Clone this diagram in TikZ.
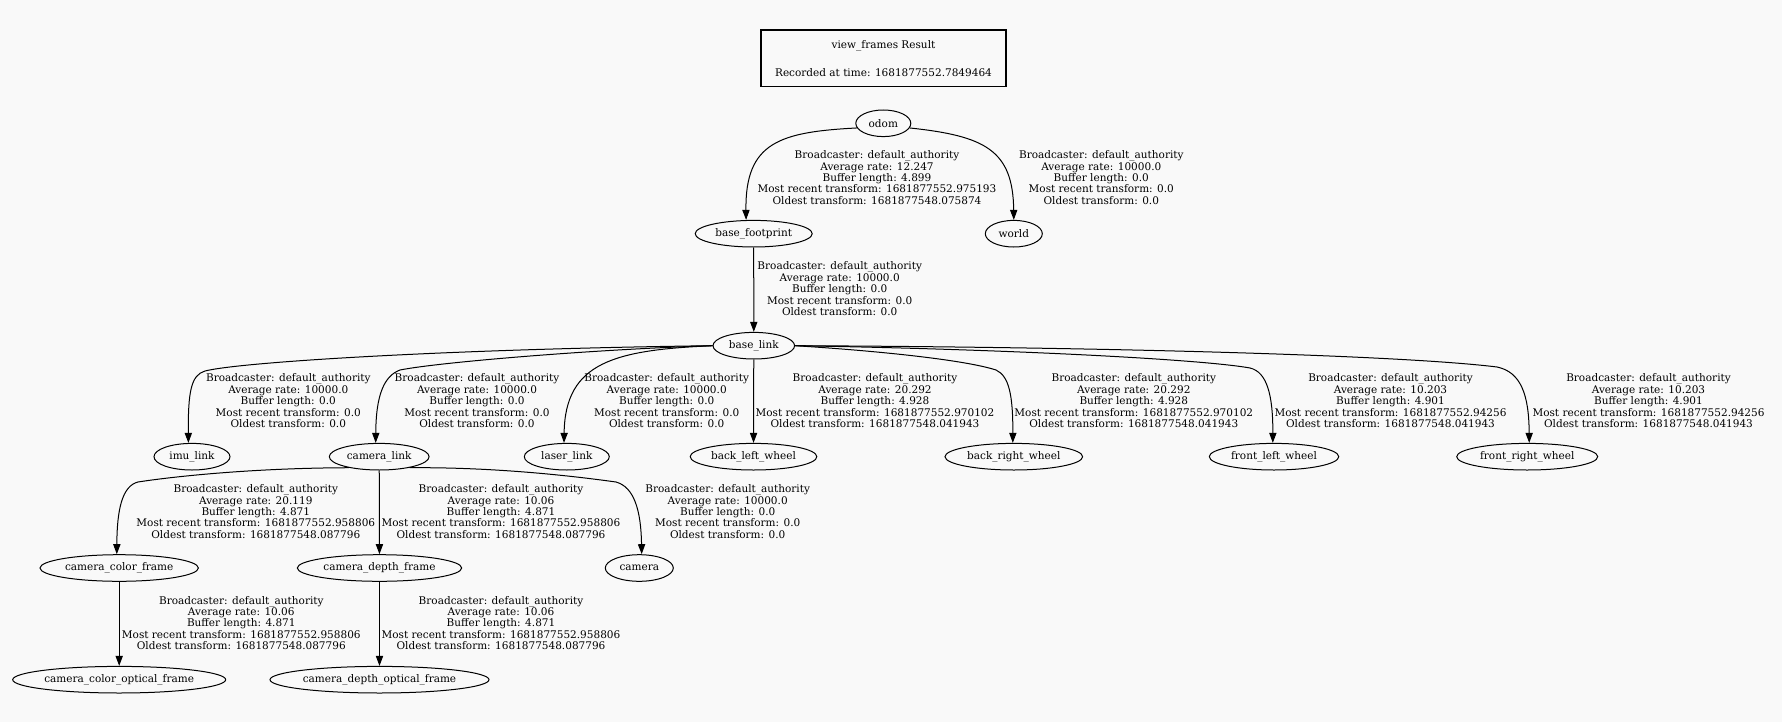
\documentclass[tikz,border=0pt]{standalone}
\usepackage{fontspec}
\setmainfont{DejaVu Serif}
\usetikzlibrary{shapes.geometric,arrows.meta}
\definecolor{bg}{RGB}{249,249,249}
\tikzset{
  frame/.style={ellipse, draw, line width=0.5pt, inner sep=0pt, minimum height=13.3pt, font=\fontsize{5.25pt}{5.7pt}\selectfont},
  lbl/.style={align=center, inner sep=0pt, font=\fontsize{5.25pt}{5.7pt}\selectfont},
  edge/.style={line width=0.5pt, -{Triangle[length=5pt,width=3.6pt]}},
  titlebox/.style={draw, line width=0.7pt, rectangle, inner sep=0pt, minimum width=122.5pt, minimum height=28.3pt, align=center, font=\fontsize{5.25pt}{5.7pt}\selectfont}
}
\begin{document}
\begin{tikzpicture}[x=0.5pt,y=-0.5pt]
\fill[bg] (0,0) rectangle (1782,722);
\useasboundingbox (0,0) rectangle (1782,722);

\node[titlebox] (title) at (883.5,58.3) {view\_frames Result\\[8.2pt]Recorded at time: 1681877552.7849464};

% nodes
\node[frame, minimum width=27.5pt] (odom) at (883.3,123.3) {odom};
\node[frame, minimum width=58.5pt] (base_footprint) at (753.7,233.7) {base\_footprint};
\node[frame, minimum width=28.5pt] (world) at (1013.8,233.7) {world};
\node[frame, minimum width=40.8pt] (base_link) at (753.8,345.7) {base\_link};
\node[frame, minimum width=38pt] (imu_link) at (192,456.7) {imu\_link};
\node[frame, minimum width=49.9pt] (camera_link) at (379.2,456.7) {camera\_link};
\node[frame, minimum width=42.5pt] (laser_link) at (566.8,456.7) {laser\_link};
\node[frame, minimum width=63.3pt] (back_left_wheel) at (753.5,456.7) {back\_left\_wheel};
\node[frame, minimum width=68.8pt] (back_right_wheel) at (1013.8,456.7) {back\_right\_wheel};
\node[frame, minimum width=64.7pt] (front_left_wheel) at (1274,456.7) {front\_left\_wheel};
\node[frame, minimum width=70.5pt] (front_right_wheel) at (1527.2,456.7) {front\_right\_wheel};
\node[frame, minimum width=79.2pt] (camera_color_frame) at (119.2,568) {camera\_color\_frame};
\node[frame, minimum width=82.2pt] (camera_depth_frame) at (379.5,568) {camera\_depth\_frame};
\node[frame, minimum width=34pt] (camera) at (639.3,568) {camera};
\node[frame, minimum width=106.5pt] (camera_color_optical_frame) at (119.2,679.7) {camera\_color\_optical\_frame};
\node[frame, minimum width=109.5pt] (camera_depth_optical_frame) at (379.5,679.7) {camera\_depth\_optical\_frame};

% edges
\draw[edge] (odom.190) .. controls (780,132) and (745,142) .. ([xshift=-3.8pt]base_footprint.north);
\draw[edge] (odom.-10) .. controls (985,136) and (1013,150) .. (world.north);
\draw[edge] (base_footprint) -- (base_link);
\draw[edge] (base_link.west) .. controls (450,349) and (240,362) .. (205,371) .. controls (191,375) and (188,392) .. ([xshift=-1.8pt]imu_link.north);
\draw[edge] (base_link.west) .. controls (600,349) and (440,362) .. (400,370) .. controls (384,376) and (376,395) .. ([xshift=-1.75pt]camera_link.north);
\draw[edge] (base_link.west) .. controls (615,350) and (565,362) .. ([xshift=-1.4pt]laser_link.north);
\draw[edge] (base_link) -- (back_left_wheel);
\draw[edge] (base_link.east) .. controls (880,351) and (965,360) .. (996,370) .. controls (1009,376) and (1013,395) .. ([xshift=-0.5pt]back_right_wheel.north);
\draw[edge] (base_link.east) .. controls (1000,349) and (1200,359) .. (1250,368) .. controls (1267,372) and (1273,395) .. ([xshift=-0.6pt]front_left_wheel.north);
\draw[edge] (base_link.east) .. controls (1100,347) and (1400,355) .. (1497,367) .. controls (1521,372) and (1529,395) .. ([xshift=1pt]front_right_wheel.north);
\draw[edge] (camera_link.200) .. controls (250,468) and (170,477) .. (138,482) .. controls (122,486) and (117,510) .. ([xshift=-1.2pt]camera_color_frame.north);
\draw[edge] (camera_link) -- (camera_depth_frame);
\draw[edge] (camera_link.-20) .. controls (500,467) and (580,477) .. (616,482) .. controls (634,487) and (641,510) .. ([xshift=1.2pt]camera.north);
\draw[edge] (camera_color_frame) -- (camera_color_optical_frame);
\draw[edge] (camera_depth_frame) -- (camera_depth_optical_frame);

% labels
\node[lbl] (l_odom_bf) at (877,177.5) {Broadcaster: default\_authority\\Average rate: 12.247\\Buffer length: 4.899\\Most recent transform: 1681877552.975193\\Oldest transform: 1681877548.075874};
\node[lbl] (l_odom_world) at (1101.3,177.5) {Broadcaster: default\_authority\\Average rate: 10000.0\\Buffer length: 0.0\\Most recent transform: 0.0\\Oldest transform: 0.0};
\node[lbl] (l_bf_bl) at (839.7,288.8) {Broadcaster: default\_authority\\Average rate: 10000.0\\Buffer length: 0.0\\Most recent transform: 0.0\\Oldest transform: 0.0};
\node[lbl] (l_imu) at (288.3,400.7) {Broadcaster: default\_authority\\Average rate: 10000.0\\Buffer length: 0.0\\Most recent transform: 0.0\\Oldest transform: 0.0};
\node[lbl] (l_cam) at (477,400.7) {Broadcaster: default\_authority\\Average rate: 10000.0\\Buffer length: 0.0\\Most recent transform: 0.0\\Oldest transform: 0.0};
\node[lbl] (l_laser) at (666.7,400.7) {Broadcaster: default\_authority\\Average rate: 10000.0\\Buffer length: 0.0\\Most recent transform: 0.0\\Oldest transform: 0.0};
\node[lbl] (l_blw) at (875,400.7) {Broadcaster: default\_authority\\Average rate: 20.292\\Buffer length: 4.928\\Most recent transform: 1681877552.970102\\Oldest transform: 1681877548.041943};
\node[lbl] (l_brw) at (1133.8,400.7) {Broadcaster: default\_authority\\Average rate: 20.292\\Buffer length: 4.928\\Most recent transform: 1681877552.970102\\Oldest transform: 1681877548.041943};
\node[lbl] (l_flw) at (1390.5,400.7) {Broadcaster: default\_authority\\Average rate: 10.203\\Buffer length: 4.901\\Most recent transform: 1681877552.94256\\Oldest transform: 1681877548.041943};
\node[lbl] (l_frw) at (1648.5,400.7) {Broadcaster: default\_authority\\Average rate: 10.203\\Buffer length: 4.901\\Most recent transform: 1681877552.94256\\Oldest transform: 1681877548.041943};
\node[lbl] (l_ccf) at (255.8,511.5) {Broadcaster: default\_authority\\Average rate: 20.119\\Buffer length: 4.871\\Most recent transform: 1681877552.958806\\Oldest transform: 1681877548.087796};
\node[lbl] (l_cdf) at (501,511.5) {Broadcaster: default\_authority\\Average rate: 10.06\\Buffer length: 4.871\\Most recent transform: 1681877552.958806\\Oldest transform: 1681877548.087796};
\node[lbl] (l_camera) at (727.7,511.5) {Broadcaster: default\_authority\\Average rate: 10000.0\\Buffer length: 0.0\\Most recent transform: 0.0\\Oldest transform: 0.0};
\node[lbl] (l_ccof) at (241.3,623) {Broadcaster: default\_authority\\Average rate: 10.06\\Buffer length: 4.871\\Most recent transform: 1681877552.958806\\Oldest transform: 1681877548.087796};
\node[lbl] (l_cdof) at (501,623) {Broadcaster: default\_authority\\Average rate: 10.06\\Buffer length: 4.871\\Most recent transform: 1681877552.958806\\Oldest transform: 1681877548.087796};
\end{tikzpicture}
\end{document}
